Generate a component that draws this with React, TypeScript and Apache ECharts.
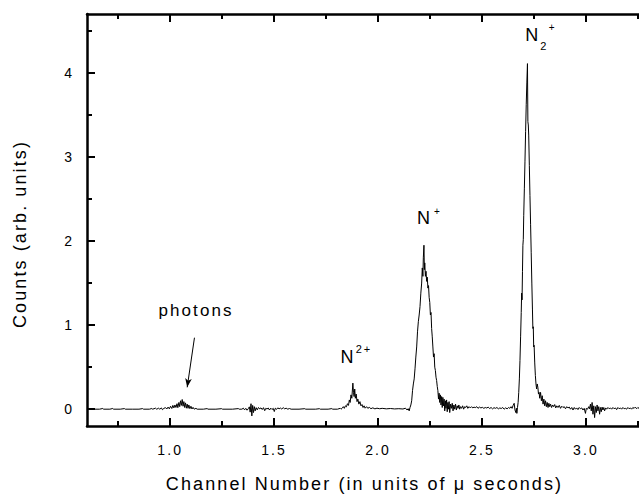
import React, { useEffect, useRef } from "react";
import * as echarts from "echarts";

const FONT = '"Liberation Sans", Arial, Helvetica, sans-serif';

// Axis ranges and tick positions (time in µs, counts in arb. units)
const xRange = [0.6, 3.27];
const yRange = [-0.2, 4.7];
const xMajorTicks = [1.0, 1.5, 2.0, 2.5, 3.0];
const xMinorTicks = [0.75, 1.25, 1.75, 2.25, 2.75, 3.25];
const yMajorTicks = [0, 1, 2, 3, 4];
const yMinorTicks = [0.5, 1.5, 2.5, 3.5, 4.5];

// Time-of-flight spectrum, [time (µs), counts], split by region
const baselineLeft = [
  [0.600, 0], [0.630, 0], [0.660, 0], [0.676, 0.008], [0.680, 0], [0.710, 0],
  [0.724, 0.008], [0.728, 0], [0.760, 0], [0.780, 0.007], [0.784, 0], [0.820, 0],
  [0.850, 0], [0.868, 0.007], [0.872, 0], [0.900, 0], [0.912, 0.008], [0.916, 0],
  [0.930, 0.012], [0.935, 0],
];

const photonBump = [
  [0.945, 0.012], [0.950, 0], [0.958, 0.015], [0.963, -0.006], [0.970, 0.010],
  [0.978, 0.018], [0.984, 0.002], [0.990, 0.025], [0.996, 0.004], [1.002, 0.035],
  [1.008, 0.008], [1.013, 0.045], [1.018, 0.015], [1.023, 0.050], [1.028, 0.020],
  [1.033, 0.065], [1.037, 0.018], [1.042, 0.080], [1.046, 0.030], [1.050, 0.100],
  [1.054, 0.045], [1.058, 0.115], [1.062, 0.035], [1.066, 0.090], [1.070, 0.020],
  [1.074, 0.075], [1.078, 0.012], [1.082, 0.060], [1.086, 0.010], [1.090, 0.050],
  [1.095, 0.006], [1.100, 0.035], [1.105, 0.002], [1.110, 0.022], [1.116, 0],
  [1.124, 0.010], [1.130, 0], [1.160, 0], [1.178, 0.007], [1.182, 0], [1.220, 0],
  [1.248, 0.006], [1.252, 0], [1.300, 0], [1.328, 0.007], [1.332, 0], [1.345, 0],
];

const driftNoise = [
  [1.352, 0.012], [1.358, -0.008], [1.364, 0.010], [1.370, -0.012], [1.376, 0.006],
  [1.381, 0.028], [1.385, -0.035], [1.389, 0.065], [1.393, -0.080], [1.397, 0.045],
  [1.401, -0.040], [1.405, 0.030], [1.409, -0.020], [1.414, 0.018], [1.419, -0.008],
  [1.425, 0.020], [1.431, 0.004], [1.437, 0.016], [1.443, -0.004], [1.449, 0.018],
  [1.455, -0.018], [1.460, 0.010], [1.466, 0.002], [1.472, 0.014], [1.478, -0.010],
  [1.484, 0.012], [1.490, -0.004], [1.496, 0.010], [1.501, -0.028], [1.506, 0.012],
  [1.512, -0.002], [1.518, 0.016], [1.524, 0.004], [1.530, 0.014], [1.537, 0.002],
  [1.544, 0.018], [1.551, 0.004], [1.558, 0.012], [1.566, 0.000], [1.574, 0.008],
  [1.582, 0], [1.620, 0], [1.648, 0.006], [1.652, 0], [1.700, 0], [1.718, 0.006],
  [1.722, 0], [1.760, 0], [1.778, 0.007], [1.782, 0], [1.805, 0], [1.818, 0.010],
  [1.822, 0],
];

const doublyChargedPeak = [
  [1.828, 0.012], [1.833, 0.030], [1.838, 0.010], [1.843, 0.040], [1.848, 0.028],
  [1.853, 0.065], [1.858, 0.045], [1.862, 0.110], [1.866, 0.080], [1.870, 0.170],
  [1.874, 0.130], [1.879, 0.310], [1.882, 0.200], [1.885, 0.150], [1.888, 0.240],
  [1.891, 0.130], [1.895, 0.180], [1.899, 0.090], [1.903, 0.120], [1.908, 0.060],
  [1.913, 0.090], [1.918, 0.040], [1.923, 0.055], [1.928, 0.020], [1.933, 0.040],
  [1.938, 0.012], [1.945, 0.030], [1.951, 0.010], [1.958, 0.022], [1.966, 0.006],
  [1.975, 0.016], [1.985, 0.004], [1.995, 0.012], [2.008, 0.005], [2.020, 0.010],
  [2.040, 0.004], [2.060, 0.008], [2.080, 0.003], [2.100, 0.006], [2.120, 0.002],
  [2.132, 0.012], [2.140, -0.010], [2.145, 0.006],
];

const atomicIonPeak = [
  [2.150, -0.020], [2.154, 0.020], [2.158, 0.050], [2.162, 0.100], [2.166, 0.220],
  [2.170, 0.300], [2.174, 0.360], [2.178, 0.480], [2.182, 0.620], [2.186, 0.740],
  [2.190, 0.920], [2.194, 1.040], [2.198, 1.120], [2.202, 1.220], [2.206, 1.380],
  [2.210, 1.500], [2.213, 1.680], [2.216, 1.580], [2.218, 1.800], [2.221, 1.950],
  [2.223, 1.660], [2.225, 1.740], [2.228, 1.580], [2.231, 1.640], [2.234, 1.520],
  [2.237, 1.570], [2.240, 1.440], [2.243, 1.470], [2.246, 1.330], [2.249, 1.270],
  [2.252, 1.120], [2.255, 1.150], [2.258, 0.960], [2.261, 0.860], [2.264, 0.740],
  [2.267, 0.620], [2.270, 0.660], [2.273, 0.500], [2.276, 0.460], [2.279, 0.380],
  [2.282, 0.340], [2.285, 0.270], [2.288, 0.220], [2.291, 0.120], [2.294, 0.190],
  [2.297, 0.080], [2.300, 0.170], [2.303, 0.050], [2.306, 0.150], [2.309, 0.020],
  [2.312, 0.140], [2.315, 0.040], [2.318, 0.120], [2.321, -0.020], [2.324, 0.100],
  [2.327, 0.010], [2.330, 0.110], [2.333, -0.030], [2.336, 0.080], [2.339, 0.000],
  [2.342, 0.090], [2.345, -0.040], [2.349, 0.060], [2.353, 0.010], [2.357, 0.070],
  [2.361, -0.020], [2.365, 0.050], [2.369, 0.000], [2.373, 0.060], [2.377, -0.010],
  [2.381, 0.040], [2.385, 0.010], [2.389, 0.050], [2.393, 0.000], [2.397, 0.030],
  [2.402, 0.010], [2.407, 0.040], [2.412, 0.000], [2.417, 0.030], [2.422, 0.020],
  [2.427, 0.040], [2.432, 0.010], [2.438, 0.030], [2.444, 0.015],
];

const midBaseline = [
  [2.450, 0.030], [2.456, 0.015], [2.462, 0.025], [2.468, 0.018], [2.475, 0.030],
  [2.481, 0.010], [2.488, 0.025], [2.495, 0.015], [2.502, 0.022], [2.509, 0.010],
  [2.516, 0.020], [2.523, 0.014], [2.530, 0.024], [2.537, 0.008], [2.544, 0.020],
  [2.551, 0.004], [2.558, 0.018], [2.565, 0.010], [2.572, 0.020], [2.579, 0.004],
  [2.586, 0.015], [2.593, 0.008], [2.600, 0.020], [2.607, 0.000], [2.614, 0.016],
  [2.621, 0.004], [2.628, 0.020], [2.634, 0.010], [2.640, 0.030], [2.645, 0.010],
  [2.650, 0.045], [2.655, 0.070], [2.659, -0.010], [2.663, -0.040], [2.666, 0.010],
  [2.668, -0.050],
];

const molecularIonPeak = [
  [2.671, 0.020], [2.674, 0.080], [2.677, 0.200], [2.680, 0.360], [2.683, 0.580],
  [2.686, 0.860], [2.689, 1.150], [2.691, 1.380], [2.693, 1.300], [2.695, 1.640],
  [2.697, 1.950], [2.699, 2.020], [2.701, 2.300], [2.704, 2.620], [2.707, 2.950],
  [2.710, 3.300], [2.713, 3.620], [2.716, 3.880], [2.719, 4.110], [2.721, 3.420],
  [2.723, 3.380], [2.725, 3.260], [2.728, 2.900], [2.731, 2.540], [2.734, 2.200],
  [2.737, 1.860], [2.740, 1.500], [2.743, 1.180], [2.745, 0.960], [2.747, 0.980],
  [2.749, 0.740], [2.751, 0.760], [2.754, 0.550], [2.757, 0.400], [2.760, 0.300],
  [2.763, 0.240], [2.766, 0.300], [2.769, 0.260], [2.772, 0.180], [2.775, 0.200],
];

const tailNoise = [
  [2.778, 0.130], [2.782, 0.200], [2.786, 0.100], [2.790, 0.160], [2.794, 0.060],
  [2.798, 0.120], [2.802, 0.040], [2.806, 0.100], [2.810, 0.030], [2.814, 0.080],
  [2.818, 0.020], [2.822, 0.070], [2.826, 0.030], [2.830, 0.060], [2.835, 0.020],
  [2.840, 0.050], [2.845, 0.030], [2.850, 0.055], [2.855, 0.015], [2.860, 0.040],
  [2.866, 0.020], [2.872, 0.045], [2.878, 0.010], [2.884, 0.035], [2.890, 0.020],
  [2.896, 0.030], [2.902, 0.005], [2.908, 0.030], [2.914, 0.015], [2.920, 0.025],
  [2.926, 0.000], [2.932, 0.020], [2.938, -0.010], [2.944, 0.020], [2.950, 0.000],
  [2.956, 0.015], [2.962, -0.005], [2.968, 0.020], [2.974, 0.005], [2.980, 0.015],
  [2.986, -0.010], [2.992, 0.010], [2.998, -0.050], [3.002, 0.010], [3.008, 0.000],
  [3.014, 0.030], [3.018, 0.005], [3.022, 0.060], [3.026, -0.020], [3.030, 0.080],
  [3.034, -0.060], [3.038, 0.040], [3.042, -0.100], [3.046, 0.030], [3.050, -0.040],
  [3.054, 0.050], [3.058, -0.020], [3.062, 0.030], [3.066, -0.060], [3.070, 0.020],
  [3.074, -0.030], [3.078, 0.025], [3.082, -0.010], [3.086, 0.020], [3.090, -0.020],
  [3.095, 0.015], [3.100, 0.000], [3.106, 0.020], [3.112, 0.005], [3.118, 0.015],
  [3.124, 0.000], [3.130, 0.020], [3.136, 0.005], [3.142, 0.015], [3.148, -0.005],
  [3.154, 0.020], [3.160, 0.005], [3.166, 0.015], [3.172, 0.000], [3.178, 0.020],
  [3.184, 0.005], [3.190, 0.010], [3.196, 0.000], [3.202, 0.020], [3.208, 0.005],
  [3.214, 0.015], [3.220, 0.000], [3.226, 0.020], [3.232, 0.010], [3.238, 0.025],
  [3.244, 0.005], [3.250, 0.020], [3.256, 0.010], [3.262, 0.030], [3.270, 0.010],
];

// Arrow pointing at the photon bump, in data coordinates
const photonArrowFrom = [1.117, 0.85];
const photonArrowTo = [1.082, 0.26];

const spectrum = [
  ...baselineLeft,
  ...photonBump,
  ...driftNoise,
  ...doublyChargedPeak,
  ...atomicIonPeak,
  ...midBaseline,
  ...molecularIonPeak,
  ...tailNoise,
];

const BLACK = "#000";

function xAxisDef(position: "bottom" | "top", ticks: number[], length: number, major: boolean) {
  return {
    type: "value",
    position,
    min: xRange[0],
    max: xRange[1],
    axisLine: { show: major, onZero: false, lineStyle: { color: BLACK, width: 2.5 } },
    axisTick: { show: true, inside: true, length, customValues: ticks, lineStyle: { color: BLACK, width: 2 } },
    axisLabel: { show: false },
    splitLine: { show: false },
  };
}

function yAxisDef(position: "left" | "right", ticks: number[], length: number, major: boolean) {
  return {
    type: "value",
    position,
    min: yRange[0],
    max: yRange[1],
    axisLine: { show: major, onZero: false, lineStyle: { color: BLACK, width: 2.5 } },
    axisTick: { show: true, inside: true, length, customValues: ticks, lineStyle: { color: BLACK, width: 2 } },
    axisLabel: { show: false },
    splitLine: { show: false },
  };
}

const bottomMajor: any = {
  ...xAxisDef("bottom", xMajorTicks, 8, true),
  axisLabel: {
    show: true,
    customValues: xMajorTicks,
    formatter: (v: number) => v.toFixed(1),
    margin: 17,
    fontSize: 14,
    color: BLACK,
    fontFamily: FONT,
  },
  name: "Channel Number (in units of μ seconds)",
  nameLocation: "middle",
  nameGap: 49,
  nameTextStyle: { fontSize: 18, color: BLACK, fontFamily: FONT },
};

const leftMajor: any = {
  ...yAxisDef("left", yMajorTicks, 8, true),
  axisLabel: {
    show: true,
    customValues: yMajorTicks,
    formatter: (v: number) => String(v),
    margin: 15,
    fontSize: 14,
    color: BLACK,
    fontFamily: FONT,
  },
};

// right-hand frame edge sits just past the visible area, without ticks
const rightFrame: any = {
  ...yAxisDef("right", yMajorTicks, 8, true),
  axisTick: { show: false },
};

function text(x: number, y: number, str: string, size: number, rotation = 0) {
  return {
    type: "text",
    x,
    y,
    rotation,
    silent: true,
    style: {
      text: str,
      fontSize: size,
      fontFamily: FONT,
      fill: BLACK,
      align: "center",
      verticalAlign: "middle",
    },
  };
}

const option: any = {
  animation: false,
  backgroundColor: "#fff",
  textStyle: { fontFamily: FONT },
  grid: {
    left: 87,
    top: 14,
    right: -3,
    bottom: 68,
    containLabel: false,
    outerBoundsMode: "none",
  },
  xAxis: [
    bottomMajor,
    xAxisDef("bottom", xMinorTicks, 5, false),
    xAxisDef("top", xMajorTicks, 8, true),
    xAxisDef("top", xMinorTicks, 5, false),
  ],
  yAxis: [
    leftMajor,
    yAxisDef("left", yMinorTicks, 5, false),
    rightFrame,
  ],
  series: [
    {
      type: "line",
      xAxisIndex: 0,
      yAxisIndex: 0,
      data: spectrum,
      showSymbol: false,
      symbol: "none",
      lineStyle: { color: BLACK, width: 1 },
      silent: true,
      markLine: {
        silent: true,
        symbol: ["none", "arrow"],
        symbolSize: [5, 9],
        lineStyle: { color: BLACK, width: 1, type: "solid" },
        label: { show: false },
        data: [[{ coord: photonArrowFrom }, { coord: photonArrowTo }]],
      },
    },
  ],
  graphic: [
    text(20, 234, "Counts (arb. units)", 18, Math.PI / 2),
    text(196, 310, "photons", 17),
    text(347, 357, "N", 18),
    text(364, 349, "2+", 11),
    text(423.5, 218, "N", 18),
    text(437, 211.5, "+", 10),
    text(531.7, 34.5, "N", 18),
    text(543.3, 45.5, "2", 11),
    text(551.7, 27, "+", 10),
  ],
};

export default function App() {
  const ref = useRef<HTMLDivElement>(null);

  useEffect(() => {
    const el = ref.current;
    if (!el) return;
    const chart = echarts.init(el, null, { renderer: "svg" });
    chart.setOption(option);
    // wide tracking on all multi-character labels
    el.querySelectorAll("text").forEach((t) => {
      if ((t.textContent || "").length > 1) t.setAttribute("letter-spacing", "2.1");
    });
    return () => chart.dispose();
  }, []);

  return (
    <div
      ref={ref}
      style={{ position: "fixed", left: 0, top: 0, width: 639, height: 494, background: "#fff" }}
    />
  );
}
